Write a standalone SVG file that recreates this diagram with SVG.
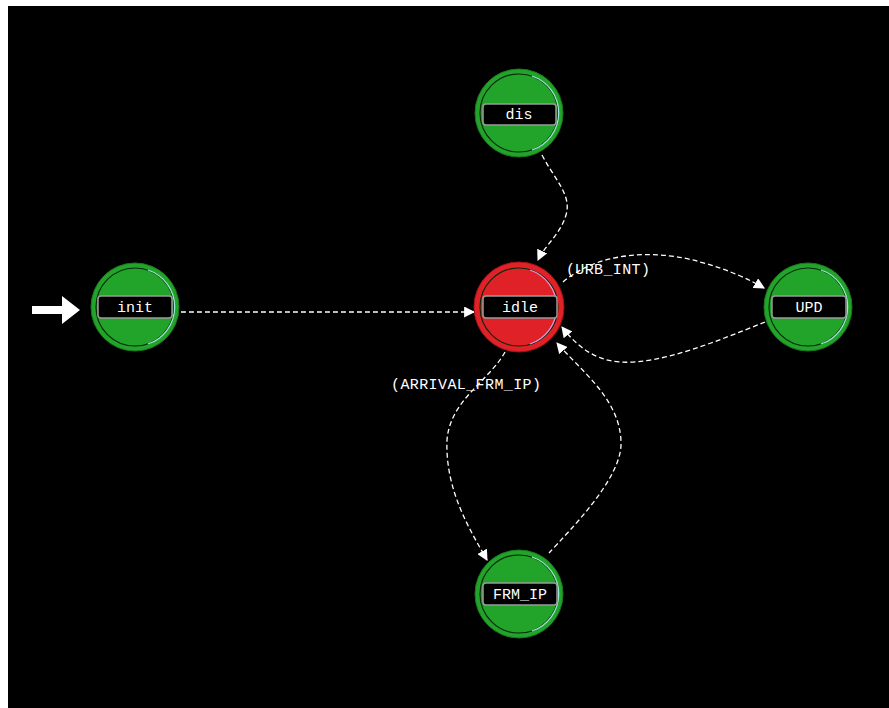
<svg xmlns="http://www.w3.org/2000/svg" width="889" height="708" viewBox="0 0 889 708">
<defs>
<style>
.ring{fill:#22a32a;stroke:#1a7a1e;stroke-width:1}
.ringr{fill:#e02228;stroke:#a01418;stroke-width:1}
.inner{fill:none;stroke:#0a2a0a;stroke-width:1.2}
.hl{fill:none;stroke:#9fe8d8;stroke-width:1.2}
.hlr{fill:none;stroke:#d8a0e0;stroke-width:1.2}
.box{fill:#000;stroke:#9a9a9a;stroke-width:1.5}
.lbl{fill:#fff;font-family:"Liberation Mono","DejaVu Sans Mono",monospace;font-size:15px;text-anchor:middle}
.edge{fill:none;stroke:#fff;stroke-width:1.3;stroke-dasharray:5 3}
.elbl{fill:#fff;font-family:"Liberation Mono","DejaVu Sans Mono",monospace;font-size:15px}
</style>
<marker id="arr" viewBox="0 0 10 10" refX="9" refY="5" markerWidth="11" markerHeight="11" markerUnits="userSpaceOnUse" orient="auto">
<path d="M0,0 L10,5 L0,10 z" fill="#fff"/>
</marker>
</defs>
<rect x="0" y="0" width="889" height="708" fill="#fff"/>
<rect x="8" y="6" width="881" height="702" fill="#000"/>

<g id="connectors">
<path class="edge" d="M181,312 L474,312" marker-end="url(#arr)"/>
<path class="edge" d="M542,155 C555,180 572,195 566,215 C560,235 545,245 538,260" marker-end="url(#arr)"/>
<path class="edge" d="M563,282 C600,250 660,250 700,262 C730,270 750,280 764,288" marker-end="url(#arr)"/>
<path class="edge" d="M765,322 C720,340 660,365 620,362 C590,360 572,340 562,327" marker-end="url(#arr)"/>
<path class="edge" d="M505,352 C490,380 450,400 447,440 C445,490 470,530 487,560" marker-end="url(#arr)"/>
<path class="edge" d="M549,553 C570,530 620,480 621,445 C622,400 580,370 557,343" marker-end="url(#arr)"/>
<text class="elbl" x="566" y="274" textLength="84">(URB_INT)</text>
<text class="elbl" x="391" y="389" textLength="150">(ARRIVAL_FRM_IP)</text>
</g>

<g id="start">
<path d="M32,306 L62,306 L62,296 L80,310 L62,324 L62,314 L32,314 z" fill="#fff"/>
</g>

<g id="node-init">
<circle class="ring" cx="135" cy="307" r="44"/>
<circle class="inner" cx="135" cy="307" r="39"/>
<path class="hl" d="M148,270 A39,39 0 0 1 148,344"/>
<rect class="box" x="98" y="296" width="74" height="22" rx="3"/>
<text class="lbl" x="135" y="312">init</text>
</g>

<g id="node-dis">
<circle class="ring" cx="519" cy="113" r="44"/>
<circle class="inner" cx="519" cy="113" r="39"/>
<path class="hl" d="M532,76 A39,39 0 0 1 532,150"/>
<rect class="box" x="483" y="104" width="73" height="21" rx="3"/>
<text class="lbl" x="519" y="119">dis</text>
</g>

<g id="node-idle">
<circle class="ringr" cx="519" cy="307" r="45"/>
<circle class="inner" cx="519" cy="307" r="39"/>
<path class="hlr" d="M530,270 A39,39 0 0 1 530,344"/>
<rect class="box" x="483" y="296" width="74" height="22" rx="3"/>
<text class="lbl" x="520" y="312">idle</text>
</g>

<g id="node-UPD">
<circle class="ring" cx="808" cy="307" r="44"/>
<circle class="inner" cx="808" cy="307" r="39"/>
<path class="hl" d="M821,270 A39,39 0 0 1 821,344"/>
<rect class="box" x="772" y="296" width="74" height="22" rx="3"/>
<text class="lbl" x="809" y="312">UPD</text>
</g>

<g id="node-FRM_IP">
<circle class="ring" cx="519" cy="594" r="44"/>
<circle class="inner" cx="519" cy="594" r="39"/>
<path class="hl" d="M532,557 A39,39 0 0 1 532,631"/>
<rect class="box" x="483" y="583" width="74" height="22" rx="3"/>
<text class="lbl" x="520" y="599">FRM_IP</text>
</g>
</svg>
